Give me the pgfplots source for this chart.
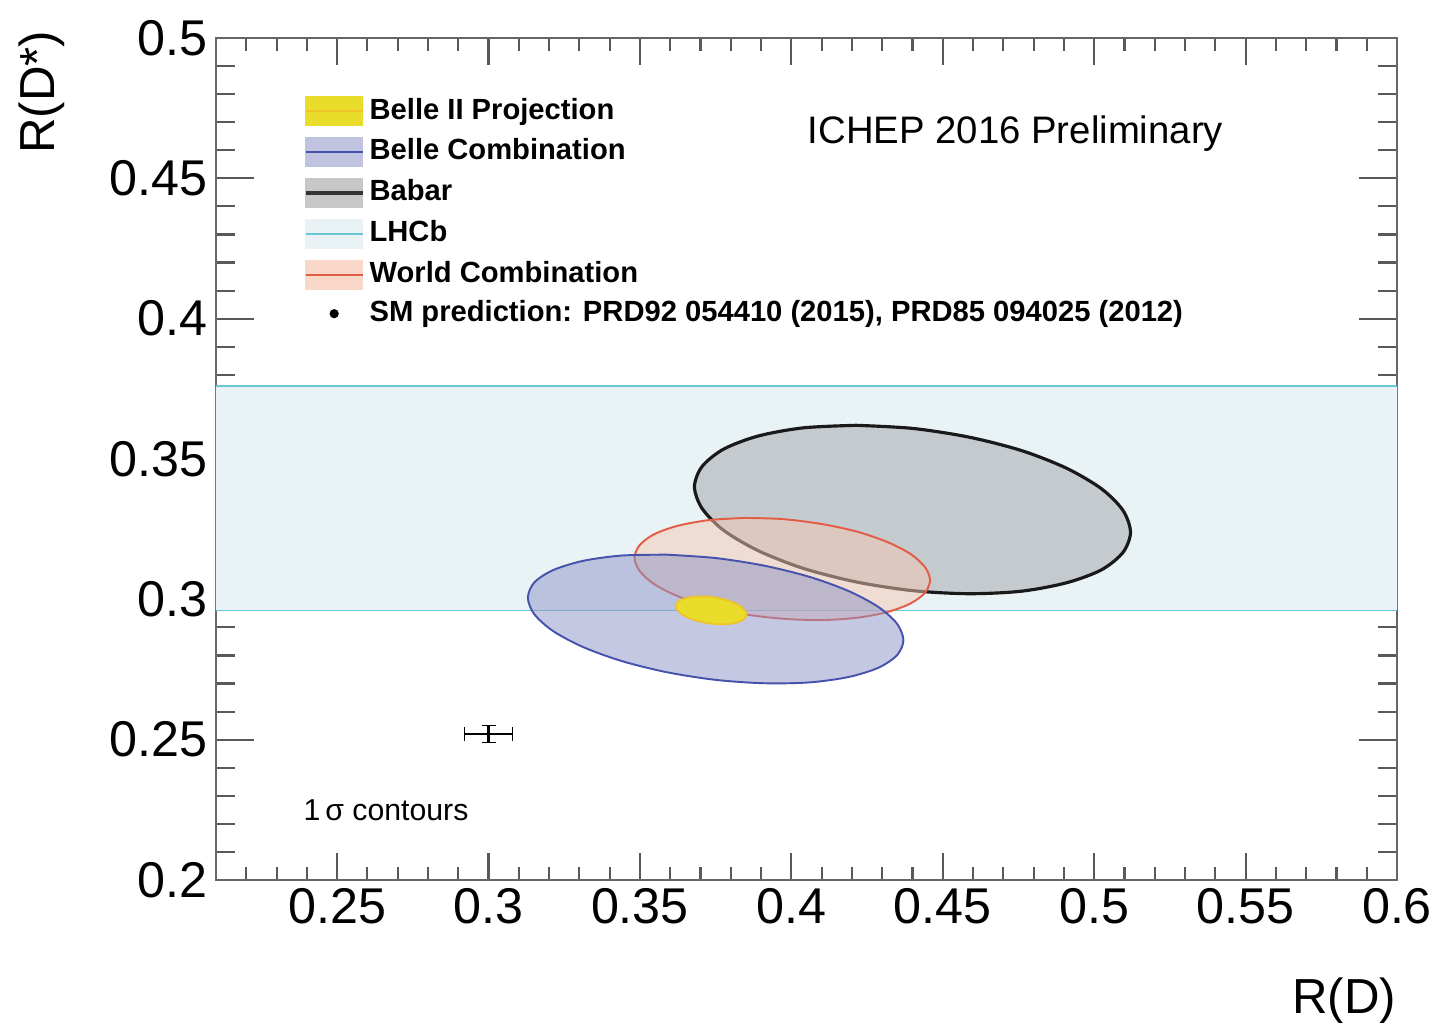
\documentclass[border=0pt]{standalone}
\usepackage{pgfplots}
\pgfplotsset{compat=1.18}
\usepackage{fontspec}
\setmainfont{Liberation Sans}
\definecolor{bandF}{RGB}{233,243,245}
\definecolor{bandL}{RGB}{105,198,212}
\definecolor{babarF}{RGB}{160,163,167}
\definecolor{worldF}{RGB}{246,200,178}
\definecolor{worldL}{RGB}{226,92,70}
\definecolor{belleF}{RGB}{140,146,198}
\definecolor{belleL}{RGB}{70,82,172}
\definecolor{belleIIF}{RGB}{234,220,42}
\definecolor{belleIIL}{RGB}{238,196,40}
\newcommand\legbox[3]{\addlegendimage{legend image code/.code={\fill[#1] (0cm,-0.145cm) rectangle (0.57cm,0.145cm); \draw[#2,line width=#3] (0cm,0cm) -- (0.57cm,0cm);}}}
\begin{document}
\begin{tikzpicture}
\begin{axis}[
  at={(0,0)}, anchor=south west,
  scale only axis, width=11.81cm, height=8.42cm,
  xmin=0.21, xmax=0.6, ymin=0.2, ymax=0.5,
  xtick={0.25,0.3,0.35,0.4,0.45,0.5,0.55,0.6},
  xticklabels={0.25,0.3,0.35,0.4,0.45,0.5,0.55,0.6},
  ytick={0.2,0.25,0.3,0.35,0.4,0.45,0.5},
  yticklabels={0.2,0.25,0.3,0.35,0.4,0.45,0.5},
  minor xtick={0.22,0.23,0.24,0.26,0.27,0.28,0.29,0.31,0.32,0.33,0.34,0.36,0.37,0.38,0.39,0.41,0.42,0.43,0.44,0.46,0.47,0.48,0.49,0.51,0.52,0.53,0.54,0.56,0.57,0.58,0.59},
  minor ytick={0.21,0.22,0.23,0.24,0.26,0.27,0.28,0.29,0.31,0.32,0.33,0.34,0.36,0.37,0.38,0.39,0.41,0.42,0.43,0.44,0.46,0.47,0.48,0.49},
  tick align=inside,
  xtick style={black!65, line width=0.6pt, /pgfplots/major tick length=0.27cm, /pgfplots/minor tick length=0.13cm},
  ytick style={black!65, line width=0.6pt, /pgfplots/major tick length=0.38cm, /pgfplots/minor tick length=0.19cm},
  axis line style={black!60, line width=0.8pt},
  tick label style={font=\fontsize{14.3}{16}\selectfont, inner sep=0pt},
  xticklabel shift=0.08cm, yticklabel shift=0.08cm,
  xlabel={R(D)}, ylabel={R(D*)},
  label style={font=\fontsize{14}{16}\selectfont, inner sep=0pt},
  xlabel style={at={(axis description cs:1,0)}, anchor=north east, yshift=-0.97cm},
  ylabel style={at={(axis description cs:-0.1676,1.0095)}, anchor=north east},
  legend style={at={(axis description cs:0.0737,0.932)}, anchor=north west, draw=none, fill=none,
    font=\bfseries\fontsize{8.3}{9.5}\selectfont, row sep=0.105cm, inner sep=0pt,
    nodes={inner xsep=0.05cm, inner ysep=0pt}},
  legend cell align=left,
]
% LHCb band
\addplot[draw=none, fill=bandF, forget plot] coordinates {(0.21,0.296) (0.6,0.296) (0.6,0.376) (0.21,0.376) (0.21,0.296)};
\addplot[bandL, line width=0.5pt, forget plot] coordinates {(0.21,0.376) (0.6,0.376)};
\addplot[bandL, line width=0.5pt, forget plot] coordinates {(0.21,0.296) (0.6,0.296)};
% Babar
\addplot[draw=black!90, line width=0.9pt, fill=babarF, fill opacity=0.5, smooth, forget plot] coordinates {
(0.4214,0.3620) (0.4040,0.3611) (0.3891,0.3582) (0.3776,0.3535) (0.3705,0.3473) (0.3680,0.3401)
(0.3705,0.3324) (0.3776,0.3246) (0.3891,0.3173) (0.4040,0.3110) (0.4214,0.3062) (0.4400,0.3031)
(0.4586,0.3020) (0.4760,0.3029) (0.4909,0.3059) (0.5024,0.3105) (0.5095,0.3167) (0.5120,0.3239)
(0.5095,0.3317) (0.5024,0.3394) (0.4909,0.3467) (0.4760,0.3530) (0.4586,0.3578) (0.4400,0.3609)
(0.4214,0.3620)};
% World combination
\addplot[draw=worldL, line width=0.55pt, fill=worldF, fill opacity=0.5, smooth, forget plot] coordinates {
(0.3844,0.3290) (0.3726,0.3282) (0.3625,0.3262) (0.3547,0.3232) (0.3499,0.3193) (0.3482,0.3148)
(0.3499,0.3101) (0.3547,0.3054) (0.3625,0.3011) (0.3726,0.2974) (0.3844,0.2947) (0.3970,0.2931)
(0.4096,0.2926) (0.4214,0.2934) (0.4315,0.2954) (0.4393,0.2985) (0.4441,0.3023) (0.4458,0.3068)
(0.4441,0.3115) (0.4393,0.3162) (0.4315,0.3205) (0.4214,0.3242) (0.4096,0.3269) (0.3970,0.3286)
(0.3844,0.3290)};
% Belle combination
\addplot[draw=belleL, line width=0.55pt, fill=belleF, fill opacity=0.5, smooth, forget plot] coordinates {
(0.3590,0.3159) (0.3440,0.3156) (0.3312,0.3137) (0.3213,0.3104) (0.3151,0.3060) (0.3130,0.3006)
(0.3151,0.2947) (0.3213,0.2887) (0.3312,0.2830) (0.3440,0.2780) (0.3590,0.2740) (0.3750,0.2713)
(0.3910,0.2701) (0.4060,0.2704) (0.4188,0.2723) (0.4287,0.2756) (0.4349,0.2801) (0.4370,0.2854)
(0.4349,0.2913) (0.4287,0.2973) (0.4188,0.3030) (0.4060,0.3080) (0.3910,0.3120) (0.3750,0.3147)
(0.3590,0.3159)};
% Belle II projection
\addplot[draw=belleIIL, line width=0.5pt, fill=belleIIF, smooth, forget plot] coordinates {
(0.3677,0.3010) (0.3634,0.2998) (0.3618,0.2976) (0.3634,0.2950) (0.3677,0.2927) (0.3735,0.2913)
(0.3794,0.2912) (0.3836,0.2924) (0.3852,0.2946) (0.3836,0.2972) (0.3794,0.2995) (0.3735,0.3009)
(0.3677,0.3010)};
% SM prediction
\addplot[black, mark=none, line width=0.7pt, forget plot,
  error bars/.cd, x dir=both, x explicit, y dir=both, y explicit,
  error bar style={line width=0.7pt}] coordinates {(0.300,0.252) +- (0.008,0.003)};
% legend
\legbox{belleIIF}{belleIIL}{0.4pt}
\addlegendentry{Belle II Projection}
\legbox{belleF!55}{belleL}{0.6pt}
\addlegendentry{Belle Combination}
\legbox{black!22}{black!80}{1.1pt}
\addlegendentry{Babar}
\legbox{bandF}{bandL}{0.5pt}
\addlegendentry{LHCb}
\legbox{worldF!70}{worldL}{0.6pt}
\addlegendentry{World Combination}
\addlegendimage{legend image code/.code={\fill[black] (0.285cm,0cm) circle (1.1pt);}}
\addlegendentry{SM prediction: PRD92 054410 (2015), PRD85 094025 (2012)}
\node[anchor=center, font=\fontsize{10.9}{12}\selectfont] at (axis cs:0.474,0.4661) {ICHEP 2016 Preliminary};
\node[anchor=west, inner sep=0pt, font=\fontsize{8.6}{10}\selectfont] at (axis cs:0.2387,0.2249) {1\,σ contours};
\end{axis}
\pgfresetboundingbox
\path (-2.16cm,-1.43cm) rectangle (12.22cm,8.80cm);
\end{tikzpicture}
\end{document}
